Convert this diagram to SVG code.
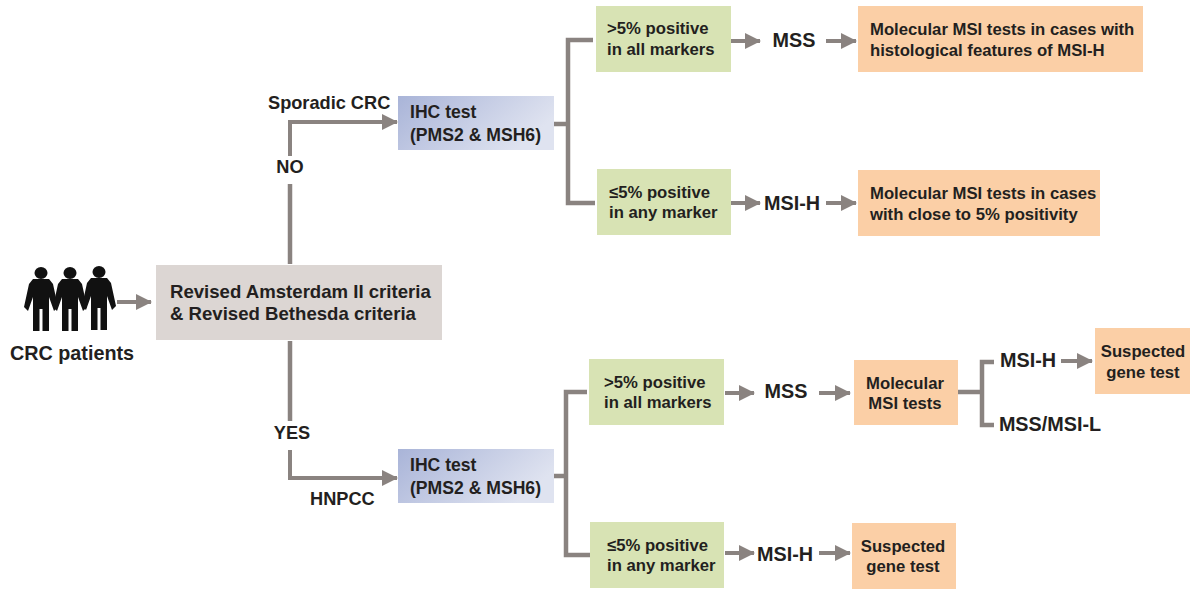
<svg xmlns="http://www.w3.org/2000/svg" width="1195" height="589" viewBox="0 0 1195 589">
<style>
text{font-family:"Liberation Sans",Arial,sans-serif;font-weight:bold;fill:#231f20;font-size:16.7px}
.md{font-size:17.6px}
.lb{font-size:18.2px}
.lg{font-size:19.8px}
.cr{font-size:18.6px}
.m{text-anchor:middle}
.g{fill:#d8e3b4}.o{fill:#fbcfa6}
.c{fill:none;stroke:#8a8380;stroke-width:4.5}
.a{fill:none;stroke:#8a8380;stroke-width:4;marker-end:url(#h)}
.p{fill:#111}
</style>
<defs>
<linearGradient id="b" x1="0" y1="0" x2="1" y2="0.4"><stop offset="0" stop-color="#a9b4d8"/><stop offset="1" stop-color="#dfe3f0"/></linearGradient>
<marker id="h" markerUnits="userSpaceOnUse" markerWidth="16" markerHeight="16" refX="15" refY="8" orient="auto"><path d="M0 0L16 8L0 16z" fill="#8a8380"/></marker>
<g id="person"><ellipse cx="0" cy="-27" rx="6.5" ry="6"/><path d="M-8-21H8L12-16L17 7L13 11L8-3V7V31H1.5V9H-1.5V31H-8V7V-3L-13 11L-17 7L-12-16z"/></g>
</defs>
<g id="connectors">
<path class="a" d="M117 302H151"/>
<path class="c" d="M290 264V184"/>
<path class="a" d="M290 156V122H397"/>
<path class="c" d="M290 341V421"/>
<path class="a" d="M290 450V478H397"/>
<path class="c" d="M553 124H568"/>
<path class="c" d="M593 40H568V203H595"/>
<path class="c" d="M553 476H566"/>
<path class="c" d="M587 392H566V555H593"/>
<path class="a" d="M731 41H760"/><path class="a" d="M826 41H856"/>
<path class="a" d="M731 203H760"/><path class="a" d="M826 203H856"/>
<path class="a" d="M725 393H754"/><path class="a" d="M819 393H850"/>
<path class="a" d="M725 553H754"/><path class="a" d="M819 553H850"/>
<path class="c" d="M958 392H982"/>
<path class="c" d="M994 362H982V425H994"/>
<path class="a" d="M1061 361H1092"/>
</g>
<g id="patients"><use href="#person" class="p" x="41" y="300"/><use href="#person" class="p" x="70" y="300"/><use href="#person" class="p" x="99" y="299"/><text class="lg m" x="72" y="360">CRC patients</text></g>
<g id="criteria"><rect x="156" y="265" width="286" height="75" fill="#dcd6d3"/><text class="cr" x="170" y="298">Revised Amsterdam II criteria</text><text class="cr" x="170" y="320">&amp; Revised Bethesda criteria</text></g>
<g id="sporadic-label"><text class="lb" x="268" y="109">Sporadic CRC</text></g>
<g id="no-label"><text class="lb m" x="290" y="173">NO</text></g>
<g id="yes-label"><text class="lb m" x="292" y="439">YES</text></g>
<g id="hnpcc-label"><text class="lb" x="310" y="505">HNPCC</text></g>
<g id="ihc-top"><rect x="398" y="96" width="156" height="54" fill="url(#b)"/><text class="md" x="410" y="118">IHC test</text><text class="md" x="410" y="141">(PMS2 &amp; MSH6)</text></g>
<g id="ihc-bottom"><rect x="398" y="449" width="156" height="54" fill="url(#b)"/><text class="md" x="410" y="471">IHC test</text><text class="md" x="410" y="494">(PMS2 &amp; MSH6)</text></g>
<g id="pos-1"><rect class="g" x="596" y="6" width="135" height="66"/><text x="607" y="34">&gt;5% positive</text><text x="607" y="55">in all markers</text></g>
<g id="pos-2"><rect class="g" x="597" y="169" width="134" height="66"/><text x="609" y="198">≤5% positive</text><text x="609" y="218">in any marker</text></g>
<g id="pos-3"><rect class="g" x="589" y="359" width="135" height="66"/><text x="604" y="388">&gt;5% positive</text><text x="604" y="408">in all markers</text></g>
<g id="pos-4"><rect class="g" x="590" y="522" width="134" height="66"/><text x="607" y="551">≤5% positive</text><text x="607" y="571">in any marker</text></g>
<g id="mss-1"><text class="lg m" x="794" y="47">MSS</text></g>
<g id="msih-1"><text class="lg m" x="792" y="210">MSI-H</text></g>
<g id="mss-2"><text class="lg m" x="786" y="398">MSS</text></g>
<g id="msih-2"><text class="lg m" x="785" y="561">MSI-H</text></g>
<g id="msih-3"><text class="lg m" x="1028" y="367">MSI-H</text></g>
<g id="mssl"><text class="lg m" x="1050" y="431">MSS/MSI-L</text></g>
<g id="mol-1"><rect class="o" x="858" y="6" width="285" height="66"/><text x="870" y="35">Molecular MSI tests in cases with</text><text x="870" y="56">histological features of MSI-H</text></g>
<g id="mol-2"><rect class="o" x="858" y="170" width="242" height="66"/><text x="870" y="199">Molecular MSI tests in cases</text><text x="870" y="220">with close to 5% positivity</text></g>
<g id="mol-3"><rect class="o" x="854" y="360" width="104" height="65"/><text class="m" x="905" y="389">Molecular</text><text class="m" x="905" y="409">MSI tests</text></g>
<g id="gene-1"><rect class="o" x="1095" y="328" width="95" height="66"/><text class="m" x="1143" y="357">Suspected</text><text class="m" x="1143" y="378">gene test</text></g>
<g id="gene-2"><rect class="o" x="852" y="523" width="104" height="66"/><text class="m" x="903" y="552">Suspected</text><text class="m" x="903" y="572">gene test</text></g>
</svg>
